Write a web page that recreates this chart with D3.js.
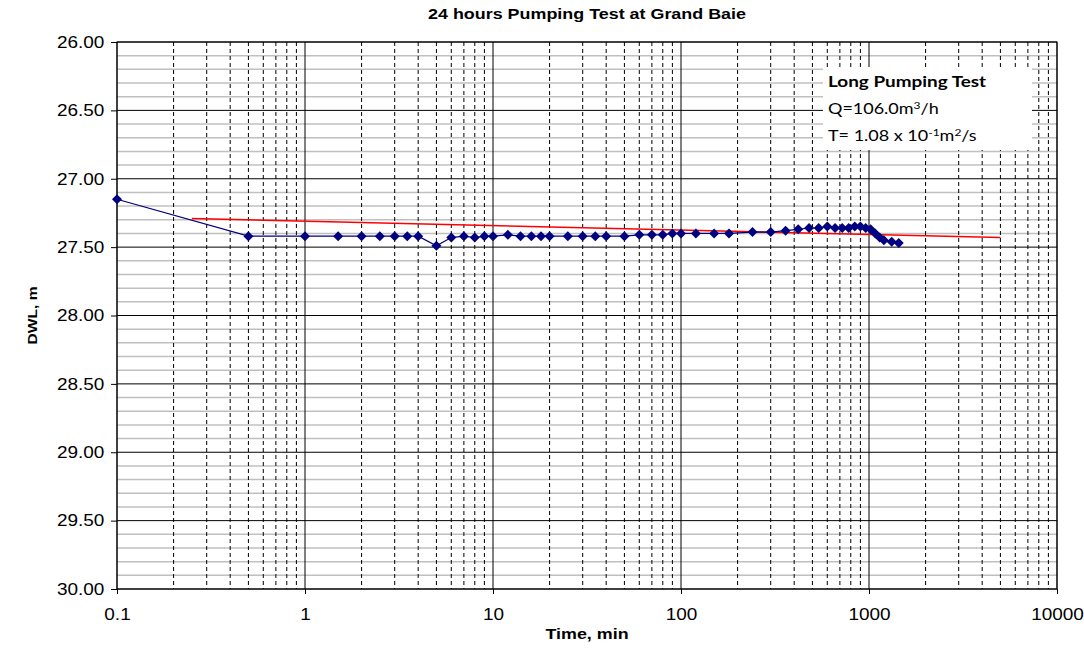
<!DOCTYPE html>
<html>
<head>
<meta charset="utf-8">
<script src="https://cdn.jsdelivr.net/npm/d3@7"></script>
<style>
  body { margin: 0; background: #fff; }
  .axis text { font-family: "Liberation Sans", Arial, sans-serif; font-size: 16.5px; fill: #000; }
  .axis path, .axis line { stroke: #000; }
</style>
</head>
<body>
<div id="chart"></div>
<script>
// pumping test readings: time since start (min) and dynamic water level (m)
var timeMin = [0.1, 0.5, 1, 1.5, 2, 2.5, 3, 3.5, 4, 5, 6, 7, 8, 9, 10, 12, 14, 16, 18, 20,
    25, 30, 35, 40, 50, 60, 70, 80, 90, 100, 120, 150, 180, 240, 300, 360, 420, 480, 540,
    600, 660, 720, 780, 840, 900, 960, 1020, 1080, 1140, 1200, 1320, 1440];
var dwl = [27.15, 27.42, 27.42, 27.42, 27.42, 27.42, 27.42, 27.42, 27.42, 27.49, 27.43, 27.42,
    27.43, 27.42, 27.42, 27.41, 27.42, 27.42, 27.42, 27.42, 27.42, 27.42, 27.42, 27.42, 27.42,
    27.41, 27.41, 27.41, 27.40, 27.40, 27.40, 27.40, 27.40, 27.39, 27.39, 27.38, 27.37, 27.36,
    27.36, 27.35, 27.36, 27.36, 27.36, 27.35, 27.35, 27.36, 27.37, 27.40, 27.43, 27.45, 27.46, 27.47];

// fitted straight line (Cooper-Jacob)
var fitTime = [0.25, 5000];
var fitDwl = [27.29, 27.43];

// axis ticks
var xTicks = [0.1, 1, 10, 100, 1000, 10000];
var yTicks = [26, 26.5, 27, 27.5, 28, 28.5, 29, 29.5, 30];

var legendLines = ["Long Pumping Test", "Q=106.0m", "T= 1.08 x 10"];

var width = 1084, height = 650;
var margin = { top: 42, right: 27, bottom: 61, left: 117 };
var plotW = width - margin.left - margin.right,
    plotH = height - margin.top - margin.bottom;

var svg = d3.select("#chart").append("svg")
    .attr("width", width)
    .attr("height", height);

var x = d3.scaleLog().domain([0.1, 10000]).range([0, plotW]);
var y = d3.scaleLinear().domain([26, 30]).range([0, plotH]);

var g = svg.append("g")
    .attr("transform", "translate(" + margin.left + "," + margin.top + ")");

// minor horizontal grid every 0.1
var minorY = d3.range(26, 30.0001, 0.1).map(d => +d.toFixed(1))
    .filter(d => yTicks.indexOf(d) < 0);
g.selectAll(".hminor").data(minorY).enter().append("line")
    .attr("x1", 0).attr("x2", plotW)
    .attr("y1", d => y(d)).attr("y2", d => y(d))
    .attr("stroke", "#c0c0c0").attr("stroke-width", 1.5);

// minor vertical dashed grid
var minorX = [];
[0.1, 1, 10, 100, 1000].forEach(function(dec) {
    for (var k = 2; k <= 9; k++) minorX.push(dec * k);
});
g.selectAll(".vminor").data(minorX).enter().append("line")
    .attr("x1", d => x(d)).attr("x2", d => x(d))
    .attr("y1", 0).attr("y2", plotH)
    .attr("stroke", "#000").attr("stroke-width", 1)
    .attr("stroke-dasharray", "4,3");

// major grid
g.selectAll(".hmajor").data(yTicks).enter().append("line")
    .attr("x1", 0).attr("x2", plotW)
    .attr("y1", d => y(d)).attr("y2", d => y(d))
    .attr("stroke", "#000").attr("stroke-width", 1);
g.selectAll(".vmajor").data(xTicks).enter().append("line")
    .attr("x1", d => x(d)).attr("x2", d => x(d))
    .attr("y1", 0).attr("y2", plotH)
    .attr("stroke", "#000").attr("stroke-width", 1);

// plot border
g.append("rect")
    .attr("width", plotW).attr("height", plotH)
    .attr("fill", "none").attr("stroke", "#000").attr("stroke-width", 1);

// legend box (white, covers grid)
var lx = 823 - margin.left, ly = 67 - margin.top;
g.append("rect")
    .attr("x", lx).attr("y", ly)
    .attr("width", 209).attr("height", 83)
    .attr("fill", "#fff");

// text in the source is stretched sideways a bit
function stretched(parent, px, py, sx) {
    return parent.append("g")
        .attr("transform", "translate(" + px + "," + py + ") scale(" + sx + ",1)")
        .append("text");
}

var lt = g.append("g")
    .attr("font-family", "Lato, 'Open Sans', sans-serif")
    .attr("font-size", 15)
    .attr("fill", "#000");
stretched(lt, lx + 5, ly + 20, 1.26)
    .attr("font-weight", "bold")
    .text(legendLines[0]);
var t2 = stretched(lt, lx + 5, ly + 47, 1.2);
t2.append("tspan").text(legendLines[1]);
t2.append("tspan").attr("dy", -5).attr("font-size", 10).text("3");
t2.append("tspan").attr("dy", 5).text("/h");
var t3 = stretched(lt, lx + 5, ly + 74, 1.2);
t3.append("tspan").text(legendLines[2]);
t3.append("tspan").attr("dy", -5).attr("font-size", 10).text("-1");
t3.append("tspan").attr("dy", 5).text("m");
t3.append("tspan").attr("dy", -5).attr("font-size", 10).text("2");
t3.append("tspan").attr("dy", 5).text("/s");

// fitted line
var fit = fitTime.map((t, i) => ({ t: t, v: fitDwl[i] }));
g.append("path")
    .datum(fit)
    .attr("fill", "none")
    .attr("stroke", "#ff0000")
    .attr("stroke-width", 1.5)
    .attr("d", d3.line().x(d => x(d.t)).y(d => y(d.v)));

// observed data
var obs = timeMin.map((t, i) => ({ t: t, v: dwl[i] }));
g.append("path")
    .datum(obs)
    .attr("fill", "none")
    .attr("stroke", "#000080")
    .attr("stroke-width", 1.2)
    .attr("d", d3.line().x(d => x(d.t)).y(d => y(d.v)));

g.selectAll(".pt").data(obs).enter().append("path")
    .attr("transform", d => "translate(" + x(d.t) + "," + y(d.v) + ")")
    .attr("d", "M0,-5L5,0L0,5L-5,0Z")
    .attr("fill", "#000080");

// axes
var xAxis = d3.axisBottom(x)
    .tickValues(xTicks)
    .tickSize(5)
    .tickPadding(14)
    .tickFormat(d => d < 1 ? "0.1" : d3.format("d")(d));
g.append("g")
    .attr("class", "axis")
    .attr("transform", "translate(0," + plotH + ")")
    .call(xAxis)
    .call(s => s.select(".domain").remove())
    .call(s => s.selectAll("text").attr("transform", "scale(1.15,1)"));

var yAxis = d3.axisLeft(y)
    .tickValues(yTicks)
    .tickSize(6)
    .tickPadding(5)
    .tickFormat(d3.format(".2f"));
g.append("g")
    .attr("class", "axis")
    .call(yAxis)
    .call(s => s.select(".domain").remove())
    .call(s => s.selectAll("text").attr("transform", "scale(1.15,1)"));

// titles
var titleFont = "Liberation Sans, Arial, sans-serif";
stretched(svg, 587, 19, 1.28)
    .attr("text-anchor", "middle")
    .attr("font-family", titleFont)
    .attr("font-weight", "bold").attr("font-size", 14)
    .text("24 hours Pumping Test at Grand Baie");

stretched(svg, 587, 639, 1.28)
    .attr("text-anchor", "middle")
    .attr("font-family", titleFont)
    .attr("font-weight", "bold").attr("font-size", 14)
    .text("Time, min");

svg.append("text")
    .attr("transform", "translate(37," + (margin.top + plotH / 2) + ") rotate(-90) scale(1.2,1)")
    .attr("text-anchor", "middle")
    .attr("font-family", titleFont)
    .attr("font-weight", "bold").attr("font-size", 13)
    .text("DWL, m");
</script>
</body>
</html>
